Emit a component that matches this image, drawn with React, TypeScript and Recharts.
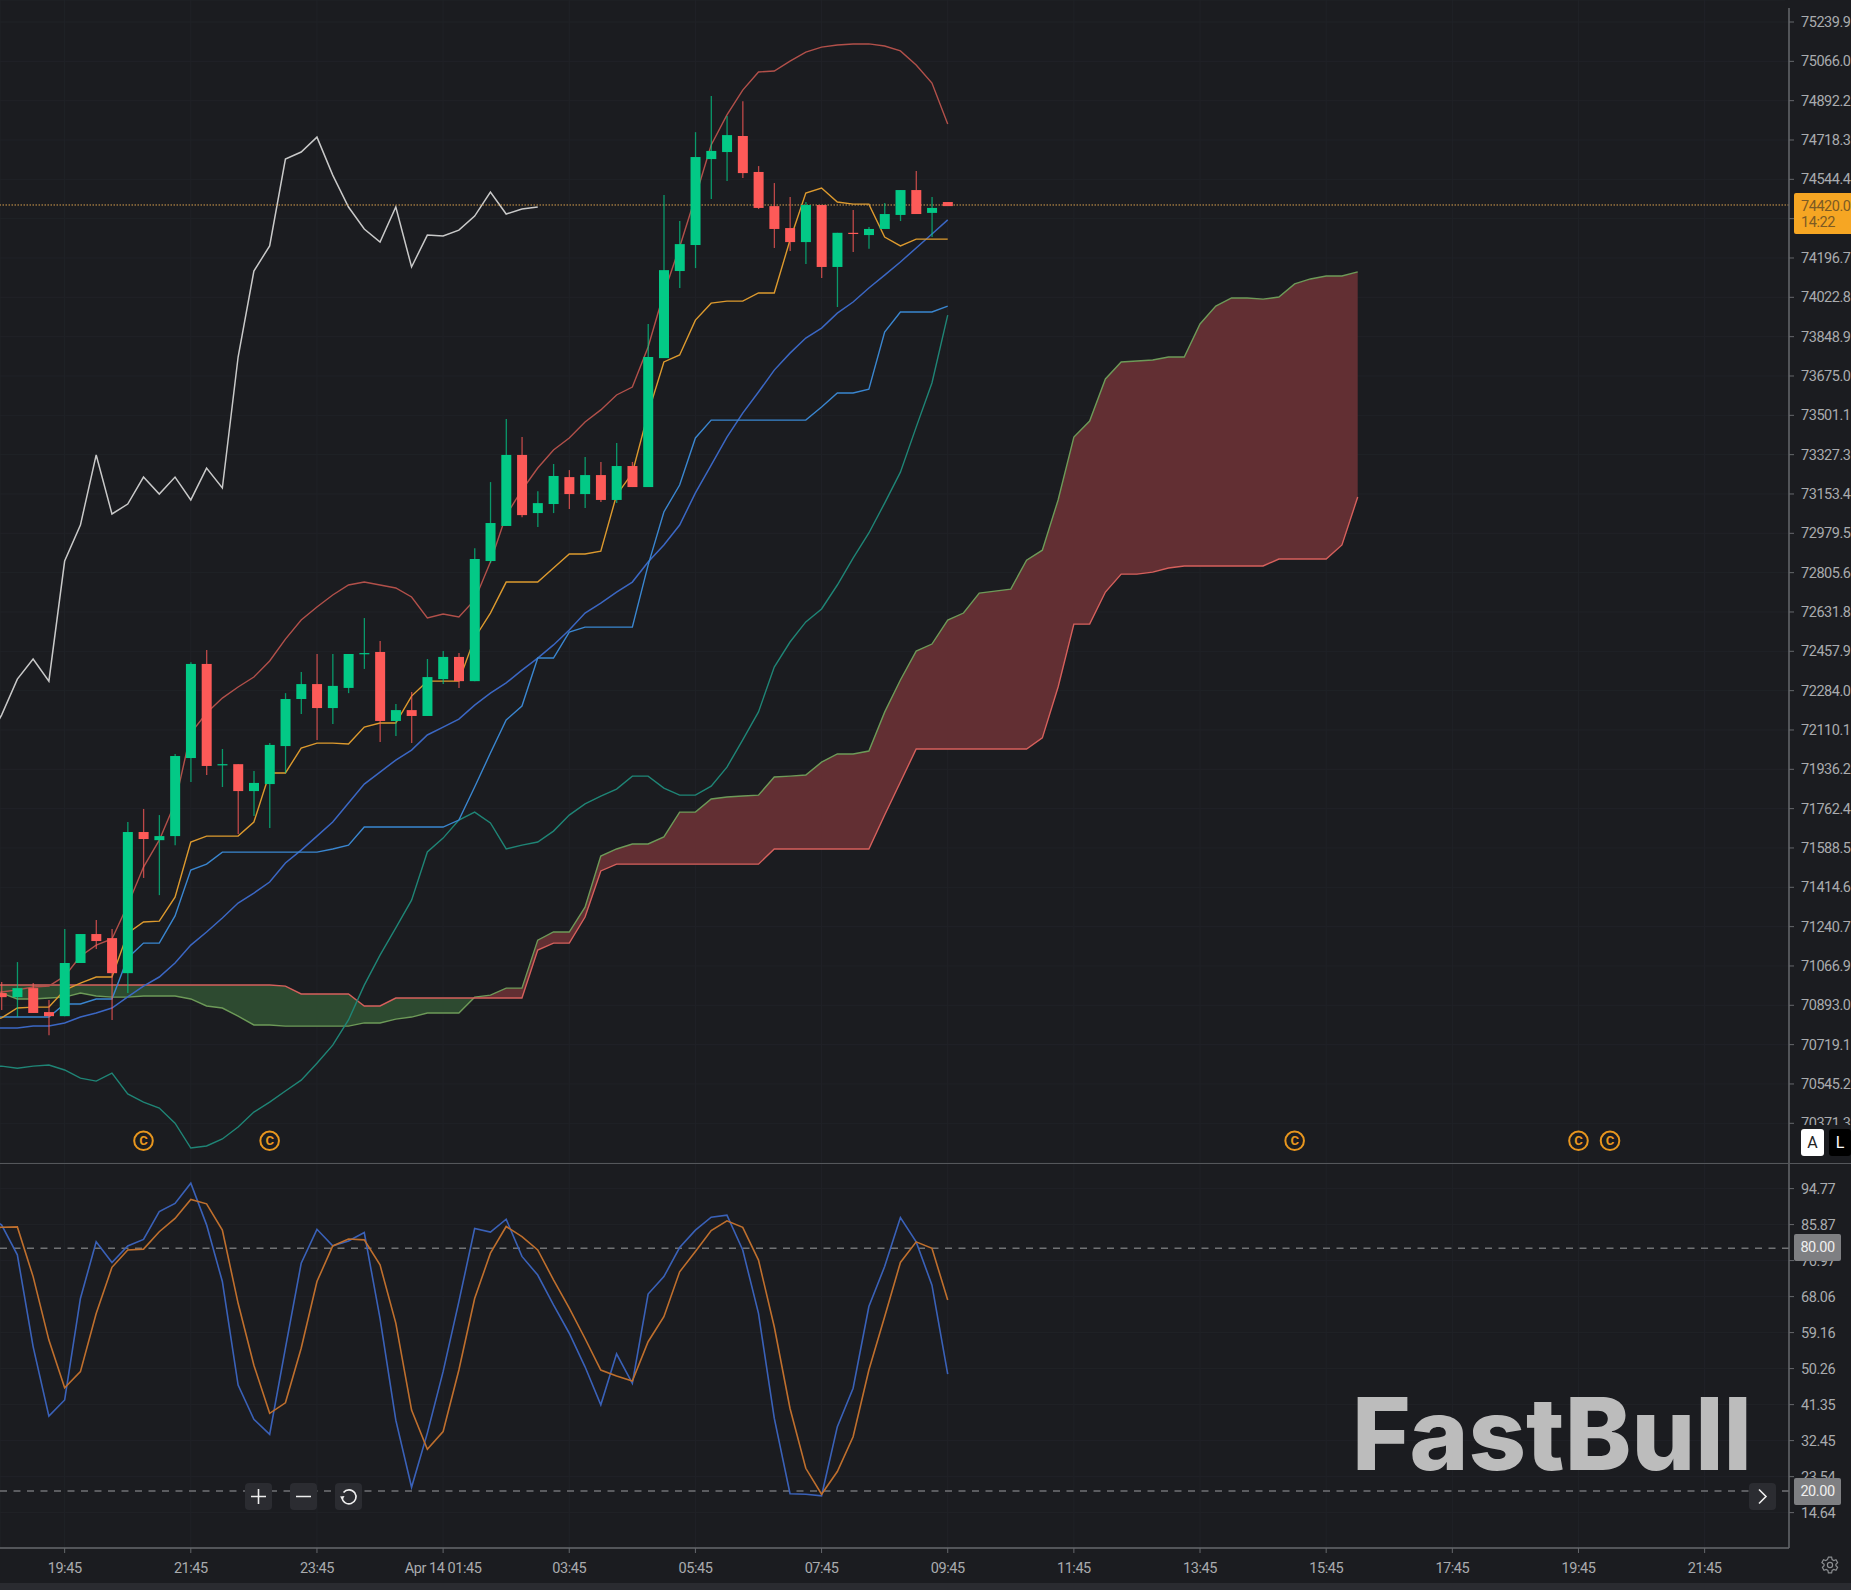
import {
  ComposedChart,
  Area,
  Bar,
  Line,
  XAxis,
  YAxis,
  CartesianGrid,
  ReferenceLine,
  ReferenceDot,
} from 'recharts';

const BG = '#1b1c20';
const GRID = '#202227';
const AXIS = '#66686c';
const TICK = '#a9abae';
const UP = '#03c986';
const DOWN = '#fd5a58';

const priceTicks = [
  75239.9, 75066.0, 74892.2, 74718.3, 74544.4, 74370.6, 74196.7, 74022.8, 73848.9, 73675.0,
  73501.1, 73327.3, 73153.4, 72979.5, 72805.6, 72631.8, 72457.9, 72284.0, 72110.1, 71936.2,
  71762.4, 71588.5, 71414.6, 71240.7, 71066.9, 70893.0, 70719.1, 70545.2, 70371.3,
];
const stochTicks = [94.77, 85.87, 76.97, 68.06, 59.16, 50.26, 41.35, 32.45, 23.54, 14.64];
const timeTicks = [4, 12, 20, 28, 36, 44, 52, 60, 68, 76, 84, 92, 100, 108];
const timeLabels = [
  '19:45', '21:45', '23:45', 'Apr 14 01:45', '03:45', '05:45', '07:45',
  '09:45', '11:45', '13:45', '15:45', '17:45', '19:45', '21:45',
];
const eventBars = [9, 17, 82, 100, 102];

const opens = [
  70947, 70929, 70969, 70863, 70845, 71080, 71208, 71190, 71035, 71659,
  71623, 71641, 71986, 72402, 71955, 71959, 71840, 71871, 72039, 72247,
  72313, 72207, 72296, 72446, 72455, 72150, 72198, 72172, 72335, 72433,
  72326, 72857, 73012, 73326, 73069, 73109, 73228, 73153, 73237, 73127,
  73277, 73184, 73754, 74139, 74254, 74634, 74665, 74736, 74577, 74426,
  74329, 74267, 74431, 74157, 74308, 74298, 74325, 74387, 74497, 74396, 74444,
];
const highs = [
  70996, 71084, 70991, 70916, 71230, 71208, 71270, 71230, 71703, 71761,
  71734, 72004, 72410, 72464, 72026, 71959, 71929, 72053, 72273, 72366,
  72446, 72446, 72446, 72605, 72503, 72225, 72278, 72424, 72459, 72450,
  72914, 73206, 73485, 73405, 73166, 73286, 73259, 73317, 73295, 73379,
  73295, 73905, 74475, 74360, 74753, 74913, 74824, 74890, 74603, 74528,
  74466, 74444, 74431, 74308, 74409, 74334, 74440, 74497, 74581, 74466, 74444,
];
const lows = [
  70872, 70841, 70859, 70761, 70845, 71080, 71142, 70828, 70947, 71456,
  71380, 71601, 71880, 71911, 71858, 71650, 71730, 71677, 71920, 72181,
  72066, 72137, 72273, 72380, 72057, 72083, 72052, 72172, 72313, 72296,
  72326, 72848, 73012, 73051, 73007, 73069, 73087, 73091, 73118, 73113,
  73184, 73184, 73754, 74064, 74152, 74457, 74537, 74550, 74413, 74241,
  74228, 74170, 74108, 73980, 74223, 74237, 74325, 74360, 74391, 74289, 74426,
];
const closes = [
  70929, 70969, 70859, 70845, 71080, 71208, 71177, 71035, 71659, 71628,
  71641, 71995, 72402, 71951, 71959, 71840, 71876, 72044, 72247, 72313,
  72207, 72305, 72446, 72450, 72150, 72198, 72172, 72344, 72433, 72326,
  72866, 73025, 73326, 73060, 73113, 73233, 73153, 73237, 73127, 73277,
  73184, 73759, 74143, 74258, 74643, 74670, 74740, 74572, 74418, 74325,
  74267, 74431, 74157, 74308, 74303, 74325, 74391, 74497, 74391, 74418, 74426,
];

const bollUpper = [
  70952, 70961, 70974, 70978, 71022, 71110, 71159, 71186, 71336, 71504,
  71623, 71787, 72097, 72185, 72251, 72300, 72344, 72415, 72512, 72596,
  72654, 72707, 72751, 72764, 72751, 72738, 72698, 72605, 72623, 72610,
  72685, 72853, 73060, 73171, 73268, 73348, 73401, 73472, 73525, 73591,
  73626, 73803, 74042, 74245, 74466, 74696, 74829, 74939, 75019, 75023,
  75067, 75107, 75129, 75138, 75143, 75143, 75134, 75112, 75050, 74970, 74789,
];
const bollMid = [
  70793, 70793, 70801, 70801, 70815, 70841, 70859, 70881, 70930, 70978,
  71018, 71080, 71159, 71217, 71279, 71345, 71389, 71438, 71522, 71579,
  71641, 71703, 71787, 71871, 71924, 71977, 72021, 72088, 72123, 72158,
  72220, 72273, 72318, 72375, 72428, 72486, 72552, 72627, 72671, 72720,
  72764, 72853, 72928, 73016, 73158, 73281, 73405, 73511, 73604, 73701,
  73776, 73843, 73887, 73953, 74002, 74064, 74121, 74179, 74241, 74303, 74365,
];
const bollLower = [
  70624, 70615, 70624, 70629, 70607, 70571, 70558, 70593, 70501, 70465,
  70439, 70372, 70262, 70271, 70302, 70355, 70421, 70465, 70514, 70562,
  70637, 70717, 70828, 70982, 71115, 71235, 71358, 71571, 71632, 71712,
  71747, 71699, 71584, 71601, 71615, 71663, 71734, 71783, 71818, 71849,
  71906, 71906, 71853, 71822, 71822, 71862, 71946, 72066, 72190, 72388,
  72499, 72588, 72645, 72751, 72870, 72981, 73113, 73250, 73449, 73644, 73944,
];
const tenkan = [
  70837, 70881, 70885, 70885, 70960, 70991, 71018, 71018, 71212, 71261,
  71265, 71371, 71615, 71641, 71641, 71641, 71703, 71920, 71920, 72030,
  72052, 72052, 72048, 72123, 72141, 72141, 72260, 72326, 72326, 72326,
  72517, 72627, 72764, 72764, 72764, 72826, 72888, 72888, 72901, 73149,
  73246, 73511, 73737, 73768, 73922, 73997, 74006, 74006, 74042, 74042,
  74276, 74484, 74506, 74444, 74435, 74435, 74289, 74250, 74280, 74280, 74280,
];
const kijun = [
  70841, 70841, 70841, 70841, 70899, 70899, 70921, 70921, 71102, 71168,
  71168, 71288, 71491, 71517, 71570, 71570, 71570, 71570, 71570, 71570,
  71570, 71584, 71601, 71681, 71681, 71681, 71681, 71681, 71681, 71712,
  71858, 72008, 72154, 72216, 72428, 72428, 72543, 72565, 72565, 72565,
  72565, 72839, 73074, 73193, 73401, 73480, 73480, 73480, 73480, 73480,
  73480, 73480, 73538, 73600, 73600, 73617, 73869, 73958, 73958, 73958, 73984,
];
const chikou = [
  72176, 72335, 72424, 72326, 72857, 73016, 73326, 73065, 73109, 73228,
  73153, 73228, 73127, 73268, 73180, 73759, 74139, 74250, 74634, 74665,
  74731, 74563, 74422, 74325, 74267, 74422, 74157, 74298, 74294, 74320,
  74382, 74488, 74391, 74413, 74422,
];
const senkouA = [
  70947, 70921, 70921, 70925, 70929, 70947, 70934, 70929, 70929, 70934,
  70934, 70934, 70921, 70890, 70881, 70845, 70806, 70806, 70801, 70801,
  70801, 70801, 70801, 70815, 70815, 70832, 70841, 70859, 70859, 70859,
  70929, 70938, 70969, 70969, 71181, 71217, 71217, 71327, 71553, 71584,
  71606, 71606, 71637, 71747, 71747, 71805, 71814, 71818, 71822, 71902,
  71906, 71911, 71968, 72004, 72004, 72017, 72189, 72331, 72459, 72490,
  72596, 72627, 72715, 72724, 72733, 72861, 72905, 73127, 73405, 73476,
  73662, 73737, 73741, 73746, 73759, 73759, 73905, 73984, 74020, 74020,
  74015, 74024, 74082, 74104, 74117, 74117, 74135,
];
const senkouB = [
  70983, 70983, 70983, 70983, 70983, 70983, 70983, 70983, 70983, 70983,
  70983, 70983, 70983, 70983, 70983, 70983, 70983, 70983, 70978, 70943,
  70943, 70943, 70943, 70890, 70890, 70925, 70925, 70925, 70925, 70925,
  70925, 70925, 70925, 70925, 71137, 71168, 71168, 71283, 71487, 71517,
  71517, 71517, 71517, 71517, 71517, 71517, 71517, 71517, 71517, 71584,
  71584, 71584, 71584, 71584, 71584, 71584, 71734, 71880, 72026, 72026,
  72026, 72026, 72026, 72026, 72026, 72026, 72075, 72300, 72578, 72578,
  72720, 72799, 72799, 72808, 72826, 72835, 72835, 72835, 72835, 72835,
  72835, 72866, 72866, 72866, 72866, 72928, 73140,
];

const stochK = [
  85.8, 78.4, 55.7, 38.5, 42.5, 67.6, 81.6, 76.5, 80.6, 82.2,
  89.1, 91.1, 96.1, 85.8, 71.8, 46.2, 37.7, 34.0, 55.3, 76.3,
  84.7, 80.6, 81.8, 83.9, 62.7, 37.5, 20.9, 34.3, 49.5, 66.8,
  84.9, 84.0, 87.2, 78.0, 73.4, 66.0, 59.0, 50.7, 41.3, 53.9,
  46.6, 68.7, 73.0, 80.2, 84.5, 87.7, 88.2, 79.6, 63.9, 38.0,
  19.3, 19.2, 18.8, 35.9, 45.4, 65.6, 75.5, 87.6, 81.6, 70.9, 48.9,
];
const stochD = [
  85.2, 85.3, 73.0, 57.3, 45.5, 49.5, 63.9, 75.3, 79.6, 79.8,
  84.1, 87.4, 92.1, 91.0, 84.5, 66.4, 51.1, 39.2, 41.8, 55.3,
  71.8, 80.6, 82.3, 82.1, 75.9, 61.5, 40.0, 30.3, 34.7, 49.9,
  67.6, 78.8, 85.4, 82.9, 79.6, 72.2, 65.2, 57.7, 49.9, 48.4,
  47.2, 56.9, 63.1, 74.2, 79.2, 84.4, 86.8, 85.2, 77.1, 60.6,
  40.4, 25.6, 19.2, 24.8, 33.4, 49.9, 63.1, 76.5, 81.6, 80.0, 67.2,
];

// the bar just off the left edge, so the lines run out of the pane
const leadInMain = {
  i: -1, upper: 70945, mid: 70790, lower: 70620, tenkan: 70820, kijun: 70841, chikou: 72050,
  a: 70950, b: 70983, bullCloud: [70950, 70983], bearCloud: null,
  open: null, high: null, low: null, close: null, range: null,
};
const leadInStoch = { i: -1, k: 88.0, d: 85.0 };

// 15 min bars, the cloud is shifted 26 bars ahead of the last candle
const CROSS_BAR = 30;
const mainData = [
  leadInMain,
  ...senkouA.map((a, i) => {
    const b = senkouB[i];
    const hasCandle = i < opens.length;
    return {
      i,
      open: hasCandle ? opens[i] : null,
      high: hasCandle ? highs[i] : null,
      low: hasCandle ? lows[i] : null,
      close: hasCandle ? closes[i] : null,
      range: hasCandle ? [lows[i], highs[i]] : null,
      upper: bollUpper[i] ?? null,
      mid: bollMid[i] ?? null,
      lower: bollLower[i] ?? null,
      tenkan: tenkan[i] ?? null,
      kijun: kijun[i] ?? null,
      chikou: chikou[i] ?? null,
      a,
      b,
      bullCloud: i <= CROSS_BAR ? [a, b] : null,
      bearCloud: i >= CROSS_BAR ? [b, a] : null,
    };
  }),
];
const stochData = [leadInStoch, ...stochK.map((k, i) => ({ i, k, d: stochD[i] }))];

const X_DOMAIN: [number, number] = [-0.1, 113.35];
const FONT = 'Roboto, sans-serif';
const tickStyle = { fill: TICK, fontSize: 14.5, fontFamily: FONT, letterSpacing: -0.45 };

function Candle(props: any) {
  const { x, y, width, height, payload } = props;
  if (!payload || payload.open == null || !Number.isFinite(y)) return <g />;
  const { open, close, high, low } = payload;
  const span = high - low || 1;
  const toY = (p: number) => y + (height * (high - p)) / span;
  const color = close >= open ? UP : DOWN;
  const top = toY(Math.max(open, close));
  const bottom = toY(Math.min(open, close));
  const cx = x + width / 2;
  return (
    <g>
      <line x1={cx} x2={cx} y1={y} y2={y + height} stroke={color} strokeOpacity={0.72} strokeWidth={1.3} />
      <rect x={x} y={top} width={width} height={Math.max(bottom - top, 1.2)} fill={color} />
    </g>
  );
}

function EventMark(props: any) {
  const { cx, cy } = props;
  return (
    <g>
      <circle cx={cx} cy={cy} r={9.3} fill="none" stroke="#e8961e" strokeWidth={2} />
      <text x={cx} y={cy + 4.6} textAnchor="middle" fontSize={13} fontWeight={700} fontFamily={FONT} fill="#e8961e">
        C
      </text>
    </g>
  );
}

const IconBox = ({ left, top, children }: { left: number; top: number; children: any }) => (
  <svg
    width={27}
    height={27}
    style={{ position: 'absolute', left, top, background: '#2b2c31', borderRadius: 4 }}
  >
    {children}
  </svg>
);

const Tag = ({ top, text }: { top: number; text: string }) => (
  <div
    style={{
      position: 'absolute',
      left: 1794,
      top,
      width: 47,
      height: 27,
      lineHeight: '28px',
      background: '#7e7f82',
      borderRadius: 2,
      color: '#eeeeee',
      fontFamily: FONT,
      fontSize: 14.5,
      letterSpacing: -0.45,
      textAlign: 'center',
    }}
  >
    {text}
  </div>
);

export default function App() {
  const line = (dataKey: string, stroke: string, width = 1.4) => (
    <Line
      dataKey={dataKey}
      stroke={stroke}
      strokeWidth={width}
      dot={false}
      activeDot={false}
      isAnimationActive={false}
      connectNulls={false}
      type="linear"
    />
  );

  return (
    <div style={{ position: 'absolute', left: 0, top: 0, width: 1851, height: 1590, background: BG, overflow: 'hidden' }}>
      <div style={{ position: 'absolute', left: 0, top: 0 }}>
        <ComposedChart width={1851} height={1163} data={mainData} margin={{ top: 0, right: 0, bottom: 0, left: 0 }}>
          <CartesianGrid stroke={GRID} strokeWidth={1} />
          <XAxis dataKey="i" type="number" domain={X_DOMAIN} ticks={timeTicks} allowDataOverflow hide />
          <YAxis
            orientation="right"
            width={62}
            domain={[70195.8, 75337.2]}
            ticks={priceTicks}
            interval={0}
            allowDataOverflow
            tickFormatter={(v: number) => v.toFixed(1)}
            tick={tickStyle}
            tickSize={5}
            tickMargin={7}
            stroke={AXIS}
            axisLine={{ stroke: AXIS, strokeWidth: 1.5 }}
            tickLine={{ stroke: AXIS }}
          />
          <Area dataKey="bullCloud" stroke="none" fill="#2d4a30" fillOpacity={1} isAnimationActive={false} dot={false} activeDot={false} />
          <Area dataKey="bearCloud" stroke="none" fill="#622f33" fillOpacity={1} isAnimationActive={false} dot={false} activeDot={false} />
          {line('a', '#6d9a58')}
          {line('b', '#d6605c')}
          {line('lower', '#1f8576')}
          {line('upper', '#b2504a')}
          {line('mid', '#3b67c4', 1.5)}
          {line('kijun', '#3a86d0')}
          {line('tenkan', '#dd9a2e')}
          {line('chikou', '#c9c9c9', 1.5)}
          <ReferenceLine y={74431} stroke="#d9a04e" strokeWidth={1} strokeDasharray="1.5 1.5" />
          <Bar
            dataKey="range"
            barSize={10}
            shape={<Candle />}
            isAnimationActive={false}
            zIndex={450}
          />
          {eventBars.map((bar) => (
            <ReferenceDot key={bar} x={bar} y={70294} r={9} shape={<EventMark />} />
          ))}
        </ComposedChart>
      </div>

      <div style={{ position: 'absolute', left: 0, top: 1163 }}>
        <ComposedChart width={1851} height={427} data={stochData} margin={{ top: 0, right: 0, bottom: 0, left: 0 }}>
          <CartesianGrid stroke={GRID} strokeWidth={1} />
          <XAxis
            dataKey="i"
            type="number"
            domain={X_DOMAIN}
            ticks={timeTicks}
            interval={0}
            allowDataOverflow
            height={42}
            tickFormatter={(v: number) => timeLabels[timeTicks.indexOf(v)]}
            tick={tickStyle}
            tickSize={5}
            tickMargin={10}
            axisLine={{ stroke: AXIS, strokeWidth: 1.5 }}
            tickLine={{ stroke: AXIS }}
          />
          <YAxis
            orientation="right"
            width={62}
            domain={[5.89, 101.1]}
            ticks={stochTicks}
            interval={0}
            allowDataOverflow
            tickFormatter={(v: number) => v.toFixed(2)}
            tick={tickStyle}
            tickSize={5}
            tickMargin={7}
            axisLine={{ stroke: AXIS, strokeWidth: 1.5 }}
            tickLine={{ stroke: AXIS }}
          />
          <ReferenceLine y={80} stroke="#717275" strokeWidth={1.4} strokeDasharray="7 6.5" />
          <ReferenceLine y={20} stroke="#717275" strokeWidth={1.4} strokeDasharray="7 6.5" />
          {line('k', '#3a61b8', 1.6)}
          {line('d', '#bf6f2d', 1.6)}
        </ComposedChart>
      </div>

      {/* top gap of the price axis */}
      <div style={{ position: 'absolute', left: 1785, top: 0, width: 8, height: 8, background: BG }} />

      {/* pane separator and the auto / log buttons */}
      <div style={{ position: 'absolute', left: 1795, top: 1125, width: 56, height: 38, background: BG }} />
      <div style={{ position: 'absolute', left: 0, top: 1163, width: 1851, height: 1, background: '#55575b' }} />
      <div
        style={{
          position: 'absolute', left: 1801, top: 1129, width: 23, height: 27, background: '#ffffff', borderRadius: 3,
          color: '#222', fontFamily: FONT, fontSize: 16, lineHeight: '27px', textAlign: 'center',
        }}
      >
        A
      </div>
      <div
        style={{
          position: 'absolute', left: 1829, top: 1129, width: 22, height: 27, background: '#000000', borderRadius: 3,
          color: '#ffffff', fontFamily: FONT, fontSize: 16, lineHeight: '27px', textAlign: 'center',
        }}
      >
        L
      </div>

      {/* last price */}
      <div
        style={{
          position: 'absolute', left: 1794, top: 193, width: 57, height: 41, background: '#f6a623', borderRadius: '2px 0 0 2px',
          color: '#7c5a24', fontFamily: FONT, fontSize: 14.5, letterSpacing: -0.45, lineHeight: '16px', paddingLeft: 7, paddingTop: 6,
          boxSizing: 'border-box',
        }}
      >
        <div>74420.0</div>
        <div>14:22</div>
      </div>

      <Tag top={1234} text="80.00" />
      <Tag top={1478} text="20.00" />

      {/* watermark */}
      <svg width={1851} height={1590} style={{ position: 'absolute', left: 0, top: 0, pointerEvents: 'none' }}>
        <text
          x={1352}
          y={1470}
          fontFamily="Inter, sans-serif"
          fontWeight={800}
          fontSize={100}
          fill="#bcbcbc"
          textLength={400}
          lengthAdjust="spacingAndGlyphs"
        >
          FastBull
        </text>
      </svg>

      {/* zoom controls */}
      <IconBox left={245} top={1483}>
        <path d="M13.5 6v15M6 13.5h15" stroke="#eee" strokeWidth={1.6} />
      </IconBox>
      <IconBox left={290} top={1483}>
        <path d="M6 13.5h15" stroke="#eee" strokeWidth={1.6} />
      </IconBox>
      <IconBox left={335} top={1483}>
        <path d="M8.5 9.5 A7 7 0 1 1 7 14" fill="none" stroke="#eee" strokeWidth={1.6} />
        <path d="M5 13.5 L9.5 13 L7.5 17 Z" fill="#eee" />
      </IconBox>
      <IconBox left={1749} top={1483}>
        <path d="M10 6.5 L17 13.5 L10 20.5" fill="none" stroke="#eee" strokeWidth={1.6} />
      </IconBox>

      {/* settings */}
      <svg width={18} height={18} style={{ position: 'absolute', left: 1821, top: 1556 }}>
        <circle cx={9} cy={9} r={2.6} fill="none" stroke="#8b8d90" strokeWidth={1.2} />
        <path
          d="M7.4 1.2h3.2l.5 2.3 1.7 1 2.2-.7 1.6 2.8-1.7 1.6v1.6l1.7 1.6-1.6 2.8-2.2-.7-1.7 1-.5 2.3H7.4l-.5-2.3-1.7-1-2.2.7-1.6-2.8 1.7-1.6V8.2L.9 6.6l1.6-2.8 2.2.7 1.7-1z"
          fill="none"
          stroke="#8b8d90"
          strokeWidth={1.2}
        />
      </svg>

      <div style={{ position: 'absolute', left: 0, top: 1583, width: 1851, height: 7, background: '#2a2b30' }} />
    </div>
  );
}
